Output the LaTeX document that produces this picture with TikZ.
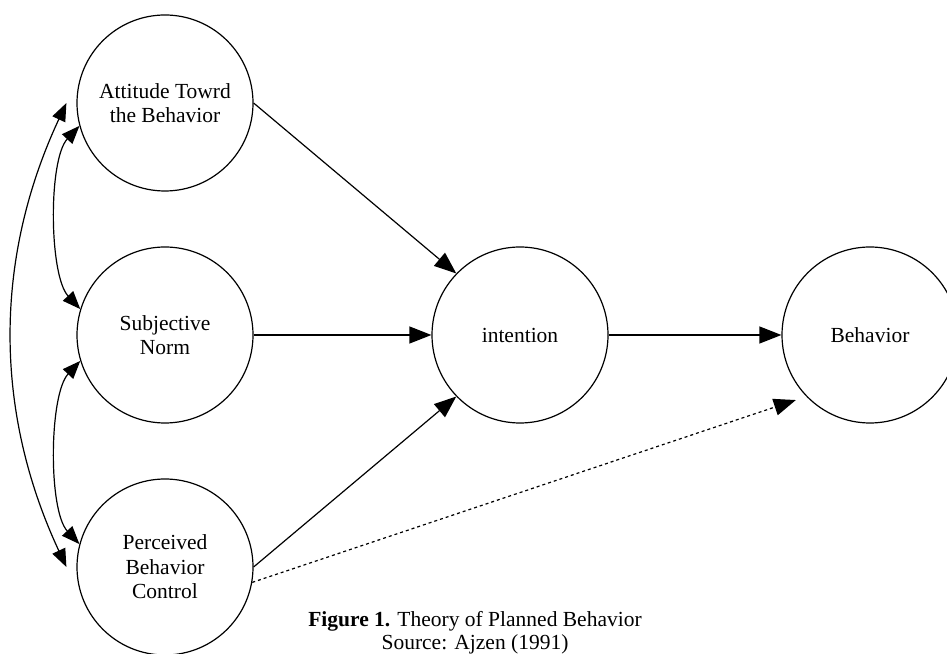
\documentclass[tikz,border=0pt]{standalone}
\usepackage{fontspec}
\setmainfont{Liberation Serif}
\usetikzlibrary{arrows.meta}

\begin{document}
\begin{tikzpicture}[x=1pt,y=1pt,
  construct/.style={circle,draw,line width=1.2pt,minimum size=176pt,inner sep=0,align=center,font=\fontsize{21.5}{24.5}\selectfont},
  link/.style={line width=1.2pt,-{Triangle[length=22pt,width=17pt]}},
  corr/.style={line width=1.2pt,{Triangle[length=18pt,width=14pt]}-{Triangle[length=18pt,width=14pt]}},
  caption/.style={align=center,inner sep=0,font=\fontsize{21.5}{23}\selectfont}]

  \useasboundingbox (0,0) rectangle (947,653);

  \node[construct] (att) at (165,550) {Attitude Towrd\\the Behavior};
  \node[construct] (sub) at (165,318) {Subjective\\Norm};
  \node[construct] (per) at (165,86)  {Perceived\\Behavior\\Control};
  \node[construct] (int) at (520,318) {intention};
  \node[construct] (beh) at (870,318) {Behavior};

  \draw[link] (att.east) -- (int.136);
  \draw[link] (sub.east) -- (int.west);
  \draw[link] (per.east) -- (int.224);
  \draw[link] (int.east) -- (beh.west);
  \draw[link,dash pattern=on 3pt off 3pt,shorten >=11pt] (per.-10) -- (beh.224);

  \draw[corr] (att.195) to[out=227,in=133,looseness=0.64] (sub.163);
  \draw[corr] (sub.197) to[out=227,in=133,looseness=0.64] (per.165);
  \draw[corr] ([xshift=-10pt]att.west) to[out=245,in=115,looseness=0.95] ([xshift=-10pt]per.west);

  \node[caption,anchor=north] (cap) at (475,42) {\textbf{Figure 1.} Theory of Planned Behavior\\Source: Ajzen (1991)};
\end{tikzpicture}
\end{document}
